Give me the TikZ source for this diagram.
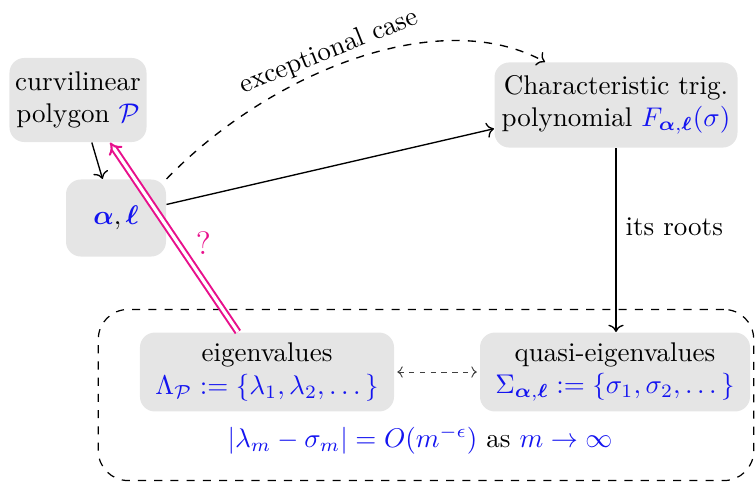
\documentclass[tikz,border=0pt]{standalone}
\usepackage{amsmath,bm}
\usetikzlibrary{arrows.meta}
\definecolor{mblue}{RGB}{20,20,240}
\definecolor{mmag}{RGB}{232,16,140}
\begin{document}
\begin{tikzpicture}[x=0.37pt,y=-0.37pt,
  box/.style={fill=gray!20, rounded corners=5.5pt, align=center, inner sep=2pt},
  conn/.style={->, line width=0.5pt},
  every node/.style={font=\normalsize}]
\useasboundingbox (0,0) rectangle (756,484);
% outer dashed frame
\node[draw, dashed, line width=0.45pt, rounded corners=11pt, minimum width=242.5pt,
      minimum height=63.3pt, inner sep=0pt] (frame) at (426,395) {};
% boxes
\node[box, minimum width=50.7pt, minimum height=31.1pt] (P) at (78,100)
  {curvilinear\\ polygon \textcolor{mblue}{$\mathcal{P}$}};
\node[box, minimum width=37pt, minimum height=28.5pt] (a) at (116,218)
  {$\textcolor{mblue}{\bm{\alpha}},\textcolor{mblue}{\bm{\ell}}$};
\node[box, minimum width=89.9pt, minimum height=31.5pt] (F) at (616,105)
  {Characteristic trig.\\ polynomial \textcolor{mblue}{$F_{\bm{\alpha},\bm{\ell}}(\sigma)$}};
\node[box, minimum width=94pt, minimum height=29.2pt] (e) at (267,372)
  {eigenvalues\\ \textcolor{mblue}{$\Lambda_{\mathcal{P}} := \{\lambda_1,\lambda_2,\dots\}$}};
\node[box, minimum width=99.9pt, minimum height=29.2pt] (q) at (615,372)
  {quasi-eigenvalues\\ \textcolor{mblue}{$\Sigma_{\bm{\alpha},\bm{\ell}} := \{\sigma_1,\sigma_2,\dots\}$}};
\node (est) at (420,440)
  {\textcolor{mblue}{$|\lambda_m-\sigma_m| = O(m^{-\epsilon})$} as \textcolor{mblue}{$m\to\infty$}};
\coordinate (Fin) at (545,62);
% connectors
\draw[conn] (P.-72) -- (a.109);
\draw[conn] (a.15) -- (F.191);
\draw[conn, dashed] (a.north east) .. controls (270,72) and (440,4) .. (Fin)
  node[pos=0.45, sloped, above, inner sep=1pt] {exceptional case};
\draw[conn] (F.south) -- (F.south |- q.north) node[pos=0.43, right] {its roots};
\draw[{To[length=2pt]}-{To[length=2pt]}, dash pattern=on 2pt off 2pt, line width=0.35pt,
      black!75, shorten <=1pt, shorten >=1pt] (e.east) -- (q.west);
\draw[mmag, double, double distance=1.2pt, line width=0.75pt, -{Implies}] (e.126) -- (P.-53)
  node[pos=0.47, right, xshift=3pt, text=mmag, font=\large] {?};
\end{tikzpicture}
\end{document}
